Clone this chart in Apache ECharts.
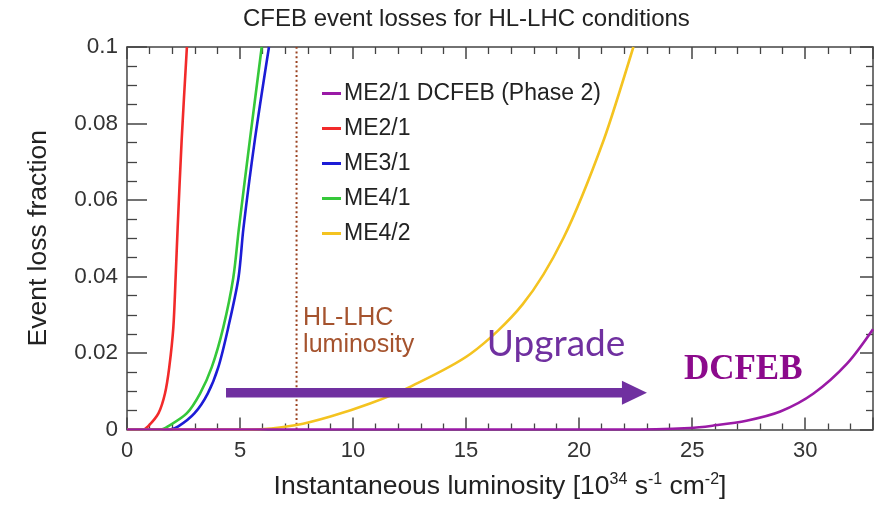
<!DOCTYPE html>
<html><head><meta charset="utf-8">
<script src="https://cdn.jsdelivr.net/npm/echarts@6/dist/echarts.min.js"></script>
<style>html,body{margin:0;padding:0;background:#fff}#c{width:879px;height:505px}</style>
</head><body><div id="c"></div>
<script>
// ---- data ----
const seriesNames = ['ME2/1 DCFEB (Phase 2)', 'ME2/1', 'ME3/1', 'ME4/1', 'ME4/2'];
const dcfebX = [0, 22, 24.9, 25.9, 27.4, 28.9, 30.37, 31.85, 33];
const dcfebY = [0, 0, 0.0004, 0.001, 0.0023, 0.0047, 0.0094, 0.0172, 0.0262];
const me21X = [0, 0.7, 0.93, 1.39, 1.68, 1.87, 2.05, 2.15, 2.24, 2.42, 2.65];
const me21Y = [0, 0, 0.0008, 0.0042, 0.0094, 0.0163, 0.0267, 0.0396, 0.0526, 0.0759, 0.1];
const me31X = [0, 1.9, 2.27, 2.98, 3.57, 4.04, 4.48, 4.93, 5.15, 5.66, 6.28];
const me31Y = [0, 0, 0.0008, 0.0042, 0.0094, 0.0163, 0.0267, 0.0396, 0.0526, 0.0759, 0.1];
const me41X = [0, 1.5, 1.81, 2.64, 3.23, 3.75, 4.26, 4.70, 4.95, 5.44, 5.96];
const me41Y = [0, 0, 0.0008, 0.0042, 0.0094, 0.0163, 0.0267, 0.0396, 0.0526, 0.0759, 0.1];
const me42X = [0, 5.5, 7.5, 9.0, 10.75, 12.5, 15.2, 17.5, 19.3, 21.1, 22.4];
const me42Y = [0, 0, 0.0012, 0.0034, 0.0068, 0.0111, 0.0198, 0.0327, 0.05, 0.0759, 0.1];
const hlLhcLumi = 7.5;
const arrowFrom = 4.38, arrowTo = 23.0, arrowLevel = 0.0096;
const noteX = [7.79, 18.98, 27.26];
const noteY = [0.0257, 0.0223, 0.0155];
const noteText = ['HL-LHC\nluminosity', 'Upgrade', 'DCFEB'];
const xTicks = [0, 5, 10, 15, 20, 25, 30];
const yTicks = [0, 0.02, 0.04, 0.06, 0.08, 0.1];

// ---- styling ----
const colors = ['#9a1aa6', '#f22a2a', '#1c1cd6', '#35c83a', '#f4c320'];
const FONT = '"Liberation Sans", Arial, sans-serif';
const noteStyles = [
  {fontSize: 25, fontFamily: FONT, fill: '#a5532e', align: 'left', lineHeight: 27},
  {fontSize: 37, fontFamily: 'Lato, "Open Sans", sans-serif', fill: '#7030a0', align: 'center'},
  {fontSize: 35, fontFamily: '"Liberation Serif", "DejaVu Serif", serif', fontWeight: 'bold', fill: '#8c0a8c', align: 'center'}
];

const zip = (xs, ys) => xs.map((x, i) => [x, ys[i]]);
const curveData = [zip(dcfebX, dcfebY), zip(me21X, me21Y), zip(me31X, me31Y), zip(me41X, me41Y), zip(me42X, me42Y)];

const axisCol = '#444';
const lineSeries = seriesNames.map((n, i) => ({
  name: n, type: 'line', data: curveData[i], showSymbol: false, symbol: 'none',
  smooth: 0.3,
  lineStyle: {color: colors[i], width: 2.6}, itemStyle: {color: colors[i]},
  z: 3 + (i === 0 ? 5 : 0), animation: false
}));

const chart = echarts.init(document.getElementById('c'), null, {renderer: 'canvas'});
chart.setOption({
  animation: false,
  backgroundColor: '#fff',
  title: {
    text: 'CFEB event losses for HL-LHC conditions', left: 238, top: 2, padding: 5,
    textStyle: {fontFamily: FONT, fontSize: 24, fontWeight: 'normal', color: '#222'}
  },
  legend: {
    data: seriesNames, orient: 'vertical', left: 322, top: 82, padding: 0,
    icon: 'rect', itemWidth: 19, itemHeight: 3, itemGap: 12,
    textStyle: {fontFamily: FONT, fontSize: 23, lineHeight: 23, color: '#222', padding: [0, 0, 0, -2]}
  },
  grid: {left: 127, right: 6, top: 47, bottom: 72, containLabel: false},
  xAxis: [{
    type: 'value', min: 0, max: 33, interval: 5, position: 'bottom',
    axisLine: {show: true, onZero: false, lineStyle: {color: axisCol, width: 1.5}},
    axisTick: {show: true, inside: true, length: 12, lineStyle: {color: axisCol, width: 1.5}},
    minorTick: {show: true, splitNumber: 5, length: 6, lineStyle: {color: axisCol, width: 1.3}},
    splitLine: {show: false},
    axisLabel: {fontFamily: FONT, fontSize: 22, color: '#333', margin: 10, showMaxLabel: false,
      formatter: v => xTicks.includes(v) ? String(v) : ''},
    name: '{a|Instantaneous luminosity [10}{s|34}{a| s}{s|-1}{a| cm}{s|-2}{a|]}',
    nameLocation: 'middle', nameGap: 42,
    nameTextStyle: {rich: {
      a: {fontFamily: FONT, fontSize: 26.5, color: '#222', lineHeight: 30},
      s: {fontFamily: FONT, fontSize: 16, color: '#222', lineHeight: 16, verticalAlign: 'top'}
    }}
  }, {
    type: 'value', min: 0, max: 33, interval: 5, position: 'top',
    axisLine: {show: true, onZero: false, lineStyle: {color: axisCol, width: 1.5}},
    axisTick: {show: true, inside: true, length: 12, lineStyle: {color: axisCol, width: 1.5}},
    minorTick: {show: true, splitNumber: 5, length: 7, lineStyle: {color: axisCol, width: 1.3}},
    splitLine: {show: false}, axisLabel: {show: false}
  }],
  yAxis: [{
    type: 'value', min: 0, max: 0.1, interval: 0.02, position: 'left',
    axisLine: {show: true, onZero: false, lineStyle: {color: axisCol, width: 1.5}},
    axisTick: {show: true, inside: true, length: 20, lineStyle: {color: axisCol, width: 1.5}},
    minorTick: {show: true, splitNumber: 4, length: 10, lineStyle: {color: axisCol, width: 1.3}},
    splitLine: {show: false},
    axisLabel: {fontFamily: FONT, fontSize: 22.5, color: '#333', margin: 9,
      formatter: v => { const t = yTicks.find(k => Math.abs(k - v) < 1e-9); return t === undefined ? '' : String(t); }},
    name: 'Event loss fraction', nameLocation: 'middle', nameGap: 75, nameRotate: 90,
    nameTextStyle: {fontFamily: FONT, fontSize: 26.5, color: '#222'}
  }, {
    type: 'value', min: 0, max: 0.1, interval: 0.02, position: 'right',
    axisLine: {show: true, onZero: false, lineStyle: {color: axisCol, width: 1.5}},
    axisTick: {show: true, inside: true, length: 13, lineStyle: {color: axisCol, width: 1.5}},
    minorTick: {show: true, splitNumber: 4, length: 7, lineStyle: {color: axisCol, width: 1.3}},
    splitLine: {show: false}, axisLabel: {show: false}
  }],
  series: [
    {
      name: 'hl-lhc-line', type: 'line', data: [[hlLhcLumi, 0], [hlLhcLumi, 0.1]],
      showSymbol: false, symbol: 'none', silent: true, z: 2,
      lineStyle: {color: '#9a4220', width: 2, type: [2, 2.7]}
    },
    {
      name: 'upgrade-arrow', type: 'custom', silent: true, z: 4,
      data: [[arrowFrom, arrowLevel, arrowTo]],
      encode: {x: [0, 2], y: 1},
      renderItem: (params, api) => {
        const p0 = api.coord([api.value(0), api.value(1)]);
        const p1 = api.coord([api.value(2), api.value(1)]);
        const headL = 25, headH = 12, shaft = 4.7;
        return {type: 'group', children: [
          {type: 'rect', shape: {x: p0[0], y: p0[1] - shaft, width: p1[0] - headL - p0[0] + 1, height: shaft * 2},
           style: {fill: '#7030a0'}},
          {type: 'polygon', shape: {points: [[p1[0] - headL, p1[1] - headH], [p1[0], p1[1]], [p1[0] - headL, p1[1] + headH]]},
           style: {fill: '#7030a0'}}
        ]};
      }
    },
    {
      name: 'notes', type: 'custom', silent: true, z: 5,
      data: zip(noteX, noteY), encode: {x: 0, y: 1},
      renderItem: (params, api) => {
        const p = api.coord([api.value(0), api.value(1)]);
        const st = noteStyles[params.dataIndex];
        return {type: 'text', x: p[0], y: p[1],
          style: Object.assign({text: noteText[params.dataIndex], verticalAlign: 'middle'}, st)};
      }
    },
    ...lineSeries
  ]
});
</script></body></html>
